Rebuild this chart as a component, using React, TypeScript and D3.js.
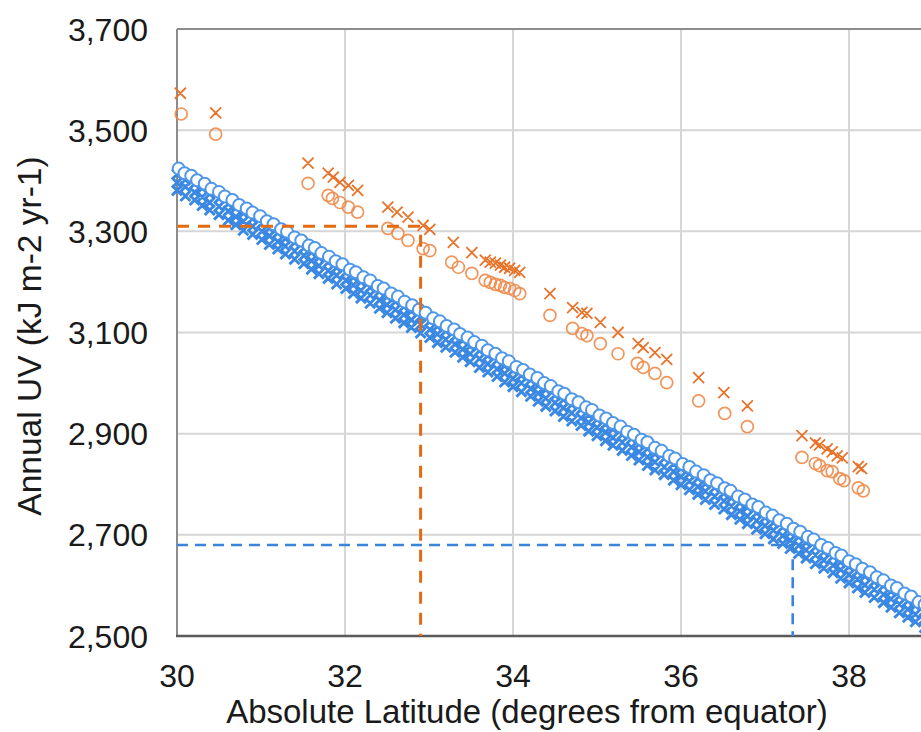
import React from "react";
import * as d3 from "d3";

const W = 921;
const H = 732;

const xTicks = [30, 32, 34, 36, 38];
const yTicks = [2500, 2700, 2900, 3100, 3300, 3500, 3700];

// Orange series (crosses and circles)
const orangeCrossLat = [30.04, 30.46, 31.56, 31.8, 31.86, 31.94, 32.04, 32.15, 32.51, 32.62, 32.75, 32.93, 33.01, 33.29, 33.51, 33.67, 33.73, 33.79, 33.85, 33.9, 33.96, 34.02, 34.08, 34.44, 34.71, 34.82, 34.88, 35.04, 35.25, 35.49, 35.55, 35.69, 35.83, 36.21, 36.51, 36.79, 37.44, 37.6, 37.65, 37.74, 37.8, 37.86, 37.92, 38.11, 38.15];
const orangeCrossUV = [3573, 3534, 3435, 3415, 3407, 3397, 3391, 3381, 3348, 3338, 3328, 3312, 3304, 3278, 3258, 3243, 3239, 3237, 3233, 3229, 3227, 3223, 3219, 3177, 3149, 3140, 3138, 3120, 3100, 3078, 3070, 3060, 3047, 3011, 2981, 2955, 2896, 2882, 2878, 2870, 2864, 2856, 2852, 2835, 2831];

const orangeCircleLat = [30.05, 30.46, 31.56, 31.8, 31.85, 31.94, 32.04, 32.15, 32.51, 32.63, 32.75, 32.93, 33.01, 33.27, 33.35, 33.51, 33.67, 33.73, 33.79, 33.85, 33.9, 33.96, 34.02, 34.08, 34.44, 34.71, 34.82, 34.88, 35.04, 35.25, 35.48, 35.55, 35.69, 35.83, 36.21, 36.52, 36.79, 37.44, 37.6, 37.65, 37.74, 37.8, 37.89, 37.94, 38.11, 38.17];
const orangeCircleUV = [3532, 3492, 3395, 3371, 3365, 3357, 3348, 3338, 3306, 3296, 3282, 3266, 3262, 3239, 3229, 3217, 3203, 3199, 3195, 3193, 3189, 3187, 3183, 3177, 3134, 3108, 3098, 3094, 3078, 3058, 3039, 3031, 3019, 3001, 2965, 2940, 2914, 2853, 2841, 2837, 2827, 2825, 2811, 2807, 2793, 2787];

// Blue series circles
const blueCircleLat = [30.02, 30.09, 30.17, 30.24, 30.33, 30.41, 30.5, 30.57, 30.66, 30.74, 30.83, 30.9, 30.99, 31.07, 31.15, 31.24, 31.31, 31.4, 31.48, 31.57, 31.64, 31.72, 31.81, 31.89, 31.97, 32.06, 32.13, 32.22, 32.3, 32.39, 32.46, 32.55, 32.63, 32.71, 32.8, 32.88, 32.96, 33.05, 33.13, 33.21, 33.3, 33.37, 33.46, 33.54, 33.63, 33.7, 33.79, 33.87, 33.95, 34.04, 34.12, 34.2, 34.29, 34.37, 34.45, 34.54, 34.61, 34.7, 34.78, 34.87, 34.94, 35.03, 35.11, 35.19, 35.28, 35.36, 35.44, 35.53, 35.6, 35.69, 35.77, 35.86, 35.93, 36.02, 36.1, 36.18, 36.27, 36.35, 36.43, 36.52, 36.59, 36.68, 36.76, 36.85, 36.92, 37.01, 37.09, 37.17, 37.26, 37.34, 37.42, 37.51, 37.58, 37.67, 37.75, 37.84, 37.91, 38.0, 38.08, 38.16, 38.25, 38.33, 38.41, 38.5, 38.57, 38.66, 38.74, 38.83, 38.9, 38.98];
const blueCircleUV = [3424, 3415, 3410, 3401, 3394, 3384, 3378, 3369, 3362, 3352, 3345, 3337, 3330, 3320, 3314, 3304, 3299, 3288, 3282, 3272, 3267, 3257, 3250, 3241, 3235, 3224, 3219, 3209, 3203, 3192, 3187, 3177, 3171, 3161, 3154, 3145, 3139, 3128, 3122, 3113, 3106, 3097, 3090, 3081, 3074, 3065, 3058, 3049, 3043, 3032, 3026, 3017, 3010, 3000, 2994, 2984, 2979, 2968, 2962, 2952, 2947, 2936, 2930, 2921, 2914, 2904, 2898, 2888, 2883, 2872, 2866, 2856, 2851, 2840, 2834, 2825, 2818, 2808, 2802, 2792, 2787, 2776, 2770, 2760, 2755, 2744, 2738, 2729, 2722, 2712, 2706, 2696, 2691, 2680, 2674, 2664, 2659, 2648, 2642, 2633, 2626, 2616, 2610, 2600, 2595, 2584, 2578, 2567, 2562, 2553];

// Blue series crosses (dense band below the circles), three values per latitude
const blueCrossLat = [30.0, 30.1, 30.21, 30.3, 30.39, 30.5, 30.61, 30.7, 30.79, 30.9, 31.01, 31.1, 31.2, 31.29, 31.4, 31.51, 31.6, 31.69, 31.8, 31.9, 32.01, 32.1, 32.19, 32.3, 32.41, 32.5, 32.6, 32.7, 32.79, 32.9, 33.01, 33.1, 33.2, 33.31, 33.4, 33.49, 33.6, 33.7, 33.81, 33.9, 34.0, 34.1, 34.21, 34.3, 34.39, 34.5, 34.6, 34.7, 34.81, 34.9, 35.0, 35.1, 35.19, 35.3, 35.41, 35.5, 35.6, 35.69, 35.8, 35.91, 36.0, 36.1, 36.2, 36.29, 36.4, 36.51, 36.6, 36.7, 36.79, 36.9, 37.0, 37.1, 37.21, 37.3, 37.4, 37.49, 37.6, 37.7, 37.81, 37.9, 38.0, 38.1, 38.19, 38.3, 38.41, 38.5, 38.6, 38.7, 38.79, 38.9, 39.0];
const blueCrossUpperUV = [3413, 3402, 3394, 3385, 3374, 3365, 3354, 3346, 3336, 3325, 3316, 3306, 3297, 3286, 3278, 3267, 3258, 3248, 3239, 3228, 3219, 3209, 3200, 3189, 3181, 3170, 3161, 3151, 3142, 3131, 3122, 3112, 3103, 3092, 3084, 3073, 3064, 3054, 3045, 3034, 3025, 3015, 3006, 2995, 2987, 2976, 2967, 2957, 2948, 2937, 2928, 2918, 2909, 2898, 2890, 2879, 2870, 2860, 2851, 2840, 2831, 2821, 2812, 2801, 2793, 2782, 2773, 2763, 2754, 2743, 2734, 2724, 2715, 2704, 2696, 2685, 2676, 2666, 2657, 2646, 2637, 2627, 2618, 2607, 2599, 2588, 2579, 2569, 2560, 2549, 2540];
const blueCrossMidUV = [3396, 3388, 3377, 3368, 3357, 3349, 3340, 3329, 3320, 3310, 3300, 3291, 3280, 3271, 3261, 3252, 3242, 3232, 3222, 3213, 3203, 3194, 3183, 3174, 3164, 3155, 3145, 3135, 3125, 3116, 3106, 3097, 3086, 3077, 3067, 3058, 3048, 3038, 3028, 3019, 3009, 3000, 2989, 2980, 2970, 2961, 2951, 2941, 2931, 2922, 2912, 2903, 2892, 2883, 2873, 2864, 2854, 2844, 2834, 2825, 2815, 2806, 2795, 2786, 2776, 2767, 2757, 2747, 2737, 2728, 2718, 2709, 2698, 2689, 2679, 2670, 2660, 2650, 2640, 2631, 2621, 2612, 2601, 2592, 2582, 2573, 2563, 2553, 2543, 2534, 2524];
const blueCrossLowerUV = [3381, 3370, 3362, 3351, 3342, 3333, 3322, 3313, 3302, 3294, 3284, 3274, 3265, 3255, 3245, 3236, 3225, 3216, 3207, 3196, 3187, 3177, 3168, 3158, 3148, 3139, 3128, 3119, 3110, 3099, 3090, 3080, 3071, 3061, 3051, 3042, 3031, 3022, 3013, 3002, 2993, 2983, 2974, 2964, 2954, 2945, 2934, 2925, 2916, 2905, 2896, 2886, 2877, 2867, 2857, 2848, 2837, 2828, 2819, 2808, 2799, 2789, 2780, 2770, 2760, 2751, 2740, 2731, 2722, 2711, 2702, 2692, 2683, 2673, 2663, 2654, 2643, 2634, 2625, 2614, 2605, 2595, 2586, 2576, 2566, 2557, 2546, 2537, 2528, 2517, 2508];

// Reference guide lines
const orangeGuide = { lat: 32.9, uv: 3310 };
const blueGuide = { lat: 37.33, uv: 2680 };

const xTitle = "Absolute Latitude (degrees from equator)";
const yTitle = "Annual UV (kJ m-2 yr-1)";

function crossPath(cx: number, cy: number, s: number) {
  return `M${cx - s},${cy - s}L${cx + s},${cy + s}M${cx - s},${cy + s}L${cx + s},${cy - s}`;
}

export default function App() {
  const x = d3.scaleLinear().domain([30, 40]).range([177, 1017]);
  const y = d3.scaleLinear().domain([2500, 3700]).range([636, 29]);
  const fmt = d3.format(",");
  const x0 = x(30);
  const yBottom = y(2500);
  const yTop = y(3700);

  const blueCrossD = blueCrossLat
    .map((lat, i) => {
      const px = x(lat);
      return (
        crossPath(px, y(blueCrossUpperUV[i]), 5) +
        crossPath(px, y(blueCrossMidUV[i]), 5) +
        crossPath(px, y(blueCrossLowerUV[i]), 5)
      );
    })
    .join("");

  const orangeCrossD = orangeCrossLat
    .map((lat, i) => crossPath(x(lat), y(orangeCrossUV[i]), 5.5))
    .join("");

  return (
    <svg
      width={W}
      height={H}
      style={{ position: "absolute", left: 0, top: 0, background: "#fff" }}
      fontFamily="'Liberation Sans', Arial, Helvetica, sans-serif"
    >
      <rect x={0} y={0} width={W} height={H} fill="#fff" />
      {/* gridlines */}
      {yTicks
        .filter((t) => t !== 2500 && t !== 3700)
        .map((t) => (
          <line key={"gy" + t} x1={x0} x2={W} y1={y(t)} y2={y(t)} stroke="#d6d6d6" strokeWidth={2} />
        ))}
      {xTicks
        .filter((t) => t !== 30)
        .map((t) => (
          <line key={"gx" + t} x1={x(t)} x2={x(t)} y1={yTop} y2={yBottom} stroke="#d6d6d6" strokeWidth={2} />
        ))}
      {/* top border and axes */}
      <line x1={x0} x2={W} y1={yTop} y2={yTop} stroke="#8c8c8c" strokeWidth={2} />
      <line x1={x0} x2={x0} y1={yTop} y2={yBottom} stroke="#8c8c8c" strokeWidth={2} />
      <line x1={x0 - 1} x2={W} y1={yBottom} y2={yBottom} stroke="#595959" strokeWidth={2.5} />

      {/* blue crosses */}
      <path d={blueCrossD} fill="none" stroke="#3a88e2" strokeWidth={2.9} />
      {/* blue circles */}
      {blueCircleLat.map((lat, i) => (
        <circle key={"bc" + i} cx={x(lat)} cy={y(blueCircleUV[i])} r={6} fill="#fff" stroke="#4d96ea" strokeWidth={2} />
      ))}
      {/* orange circles */}
      {orangeCircleLat.map((lat, i) => (
        <circle key={"oc" + i} cx={x(lat)} cy={y(orangeCircleUV[i])} r={6} fill="none" stroke="#ee8a4a" strokeWidth={1.7} strokeOpacity={0.9} />
      ))}
      {/* orange crosses */}
      <path d={orangeCrossD} fill="none" stroke="#e8732a" strokeWidth={1.8} />

      {/* guide lines */}
      <path
        d={`M${x0},${y(orangeGuide.uv)}H${x(orangeGuide.lat)}V${yBottom}`}
        fill="none"
        stroke="#e36b12"
        strokeWidth={3}
        strokeDasharray="12 9"
      />
      <path
        d={`M${x0},${y(blueGuide.uv)}H${x(blueGuide.lat)}V${yBottom}`}
        fill="none"
        stroke="#3a85dc"
        strokeWidth={2.6}
        strokeDasharray="11 7"
      />

      {/* y tick labels */}
      {yTicks.map((t) => (
        <text key={"ty" + t} x={148} y={y(t)} dy="0.36em" textAnchor="end" fontSize={32} fill="#1a1a1a">
          {fmt(t)}
        </text>
      ))}
      {/* x tick labels */}
      {xTicks.map((t) => (
        <text key={"tx" + t} x={x(t)} y={687} textAnchor="middle" fontSize={32} fill="#1a1a1a">
          {t}
        </text>
      ))}
      {/* axis titles */}
      <text x={527} y={723} textAnchor="middle" fontSize={33} fill="#1a1a1a">
        {xTitle}
      </text>
      <text
        transform={`translate(41,${336}) rotate(-90)`}
        textAnchor="middle"
        fontSize={33.5}
        fill="#1a1a1a"
      >
        {yTitle}
      </text>
    </svg>
  );
}
